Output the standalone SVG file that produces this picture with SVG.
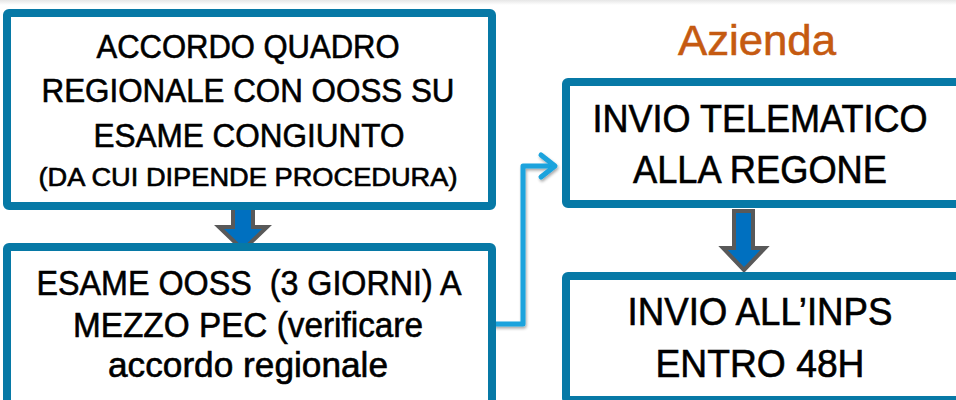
<svg xmlns="http://www.w3.org/2000/svg" width="956" height="400" viewBox="0 0 956 400">
<defs>
<style>
.box{fill:#fff;stroke:#0779A6;stroke-width:8}
.t{font-family:"Liberation Sans",Arial,sans-serif;fill:#000;stroke:#000;stroke-width:0.6;text-anchor:middle;white-space:pre}
.blk{fill:#0070C0;stroke:#595959;stroke-width:4;stroke-linejoin:miter}
.conn{fill:none;stroke:#1AA3DD;stroke-width:5;stroke-linejoin:round}
</style>
<linearGradient id="topg" x1="0" y1="0" x2="0" y2="1">
<stop offset="0" stop-color="#e6e6e6"/>
<stop offset="1" stop-color="#ffffff"/>
</linearGradient>
<filter id="sh" x="-20%" y="-20%" width="140%" height="140%">
<feGaussianBlur in="SourceAlpha" stdDeviation="1.5"/>
<feOffset dx="1" dy="2" result="b"/>
<feComponentTransfer><feFuncA type="linear" slope="0.35"/></feComponentTransfer>
<feMerge><feMergeNode/><feMergeNode in="SourceGraphic"/></feMerge>
</filter>
</defs>
<rect x="0" y="0" width="956" height="400" fill="#fff"/>
<rect x="0" y="0" width="956" height="5" fill="url(#topg)"/>

<g id="connectors">
<polygon class="blk" points="233,205 253,205 253,227 267,227 243,250 219,227 233,227"/>
<polygon class="blk" points="734,211 753,211 753,248 765,248 744,270 723,248 734,248"/>
<g filter="url(#sh)">
<polyline class="conn" points="493,324 523,324 523,166 553,166"/>
<polyline class="conn" points="541,155 555,166 541,177" stroke-linecap="round"/>
</g>
</g>

<g id="node1">
<rect class="box" x="7" y="13" width="485" height="193" rx="2"/>
<text class="t" font-size="33" x="248" y="58" textLength="303" lengthAdjust="spacingAndGlyphs">ACCORDO QUADRO</text>
<text class="t" font-size="33" x="248" y="102" textLength="413" lengthAdjust="spacingAndGlyphs">REGIONALE CON OOSS SU</text>
<text class="t" font-size="33" x="249" y="147" textLength="311" lengthAdjust="spacingAndGlyphs">ESAME CONGIUNTO</text>
<text class="t" font-size="25" x="248" y="186" textLength="419" lengthAdjust="spacingAndGlyphs" stroke-width="0.5">(DA CUI DIPENDE PROCEDURA)</text>
</g>

<g id="node2">
<rect class="box" x="7" y="247" width="485" height="160" rx="2"/>
<text class="t" font-size="35" x="249" y="295" textLength="425" lengthAdjust="spacingAndGlyphs" xml:space="preserve">ESAME OOSS  (3 GIORNI) A</text>
<text class="t" font-size="35" x="248" y="337" textLength="350" lengthAdjust="spacingAndGlyphs">MEZZO PEC (verificare</text>
<text class="t" font-size="35" x="248" y="377" textLength="280" lengthAdjust="spacingAndGlyphs">accordo regionale</text>
</g>

<g id="azienda">
<text font-family="'Liberation Sans',Arial,sans-serif" font-size="43" fill="#C55A11" stroke="#C55A11" stroke-width="0.6" x="757" y="55" text-anchor="middle" textLength="158" lengthAdjust="spacingAndGlyphs">Azienda</text>
</g>

<g id="node3">
<rect class="box" x="566" y="82" width="396" height="122" rx="2"/>
<text class="t" font-size="38" x="760" y="132" textLength="335" lengthAdjust="spacingAndGlyphs">INVIO TELEMATICO</text>
<text class="t" font-size="38" x="760" y="183" textLength="254" lengthAdjust="spacingAndGlyphs">ALLA REGONE</text>
</g>

<g id="node4">
<rect class="box" x="566" y="276" width="396" height="124" rx="2"/>
<text class="t" font-size="38" x="760" y="325" textLength="265" lengthAdjust="spacingAndGlyphs">INVIO ALL’INPS</text>
<text class="t" font-size="38" x="760" y="377" textLength="209" lengthAdjust="spacingAndGlyphs">ENTRO 48H</text>
</g>
</svg>
